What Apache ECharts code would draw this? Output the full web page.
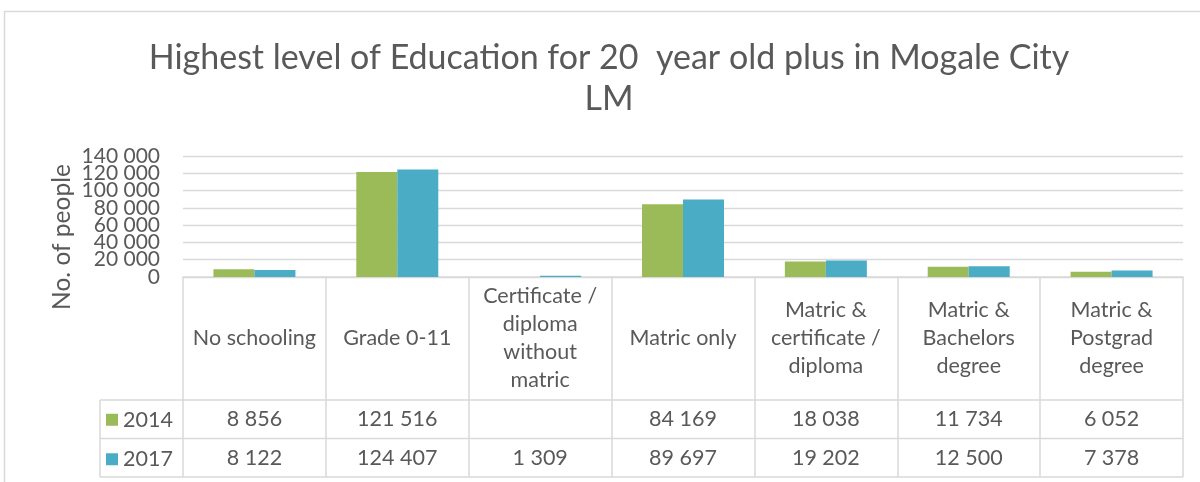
<!DOCTYPE html>
<html>
<head>
<meta charset="utf-8">
<script src="https://cdn.jsdelivr.net/npm/echarts@6/dist/echarts.min.js"></script>
<style>
  html, body { margin: 0; padding: 0; background: #fff; }
  #main { width: 1200px; height: 482px; }
</style>
</head>
<body>
<div id="main"></div>
<script>
// data
const categories = [
  'No schooling',
  'Grade 0-11',
  'Certificate /\ndiploma\nwithout\nmatric',
  'Matric only',
  'Matric &\ncertificate /\ndiploma',
  'Matric &\nBachelors\ndegree',
  'Matric &\nPostgrad\ndegree'
];
const years = ['2014', '2017'];
const values2014 = [8856, 121516, null, 84169, 18038, 11734, 6052];
const values2017 = [8122, 124407, 1309, 89697, 19202, 12500, 7378];
const yTicks = [0, 20000, 40000, 60000, 80000, 100000, 120000, 140000];

const FONT = 'Lato';
const TEXT = '#595959';
const LINE = '#D9D9D9';
const colors = ['#9BBB59', '#4BACC6'];
const FS = 21.5;

// layout of plot + data table
const gridLeft = 183, gridRight = 17, gridTop = 156, gridBottom = 205;
const axisY = 482 - gridBottom;      // y of the category axis
const headerH = 123;                 // height of category label row
const rowH = 38.5;                   // height of each data row
const tableLeft = 100;
const tableRight = 1200 - gridRight;

function fmt(v) {
  if (v == null) return '';
  return String(v).replace(/\B(?=(\d{3})+(?!\d))/g, ' ');
}

const chart = echarts.init(document.getElementById('main'));

// table rows shown through extra category axes
const rowAxes = [values2014, values2017].map((vals, i) => ({
  type: 'category',
  gridIndex: 0,
  position: 'bottom',
  offset: headerH + rowH * i + rowH / 2,
  data: vals.map(fmt),
  axisLine: { show: false },
  axisTick: { show: false },
  axisLabel: {
    interval: 0, margin: 0, verticalAlign: 'middle',
    color: TEXT, fontFamily: FONT, fontSize: FS
  }
}));

const tableLines = [];
for (let i = 0; i <= 2; i++) {
  const y = axisY + headerH + rowH * i;
  tableLines.push({
    type: 'line', silent: true,
    shape: { x1: tableLeft, y1: y, x2: tableRight, y2: y },
    style: { stroke: LINE, lineWidth: 1.5 }
  });
}
tableLines.push({
  type: 'line', silent: true,
  shape: { x1: tableLeft, y1: axisY + headerH, x2: tableLeft, y2: axisY + headerH + rowH * 2 },
  style: { stroke: LINE, lineWidth: 1.5 }
});

const option = {
  animation: false,
  backgroundColor: '#fff',
  color: colors,
  textStyle: { fontFamily: FONT },
  title: {
    text: 'Highest level of Education for 20  year old plus in Mogale City\nLM',
    left: 604, top: 33, textAlign: 'center',
    textStyle: { color: TEXT, fontFamily: FONT, fontSize: 34, fontWeight: 'normal', lineHeight: 41 }
  },
  legend: {
    orient: 'vertical',
    left: 106, top: axisY + headerH + rowH / 2 - 10.5,
    padding: 0,
    itemWidth: 12, itemHeight: 12, itemGap: rowH - 21,
    icon: 'rect',
    selectedMode: false,
    data: years,
    textStyle: { color: TEXT, fontFamily: FONT, fontSize: FS, lineHeight: 21 }
  },
  grid: { left: gridLeft, right: gridRight, top: gridTop, bottom: gridBottom, containLabel: false },
  xAxis: [{
    type: 'category',
    data: categories,
    axisLine: { lineStyle: { color: LINE, width: 1.5 } },
    axisTick: { show: true, interval: 0, length: headerH + rowH * 2, lineStyle: { color: LINE, width: 1.5 } },
    axisLabel: {
      interval: 0, margin: headerH / 2, verticalAlign: 'middle', align: 'center',
      color: TEXT, fontFamily: FONT, fontSize: FS, lineHeight: 28
    }
  }].concat(rowAxes),
  yAxis: {
    type: 'value',
    min: yTicks[0], max: yTicks[yTicks.length - 1], interval: yTicks[1] - yTicks[0],
    axisLine: { show: false },
    axisTick: { show: false },
    splitLine: { lineStyle: { color: LINE, width: 1.3 } },
    // labels are tightly packed in the reference, ECharts would drop some, so they are drawn below
    axisLabel: { show: false }
  },
  series: [
    { name: years[0], type: 'bar', data: values2014, barWidth: 41, barGap: '0%' },
    { name: years[1], type: 'bar', data: values2017, barWidth: 41, barGap: '0%' }
  ],
  graphic: [
    {
      type: 'rect', silent: true,
      shape: { x: 4.5, y: 11.5, width: 1400, height: 600 },
      style: { fill: 'none', stroke: LINE, lineWidth: 1.5 }
    },
    {
      type: 'text', silent: true,
      x: 62, y: 237, rotation: Math.PI / 2,
      style: {
        text: 'No. of people', fill: TEXT, fontFamily: FONT, fontSize: 24.5,
        align: 'center', verticalAlign: 'middle'
      }
    }
  ].concat(tableLines)
};

chart.setOption(option);

// y tick labels placed through the y axis scale
const yLabels = yTicks.map(v => ({
  type: 'text', silent: true,
  x: gridLeft - 23,
  y: chart.convertToPixel({ yAxisIndex: 0 }, v),
  style: {
    text: fmt(v), fill: TEXT, fontFamily: FONT, fontSize: 21,
    align: 'right', verticalAlign: 'middle'
  }
}));
chart.setOption({ graphic: option.graphic.concat(yLabels) });
</script>
</body>
</html>
